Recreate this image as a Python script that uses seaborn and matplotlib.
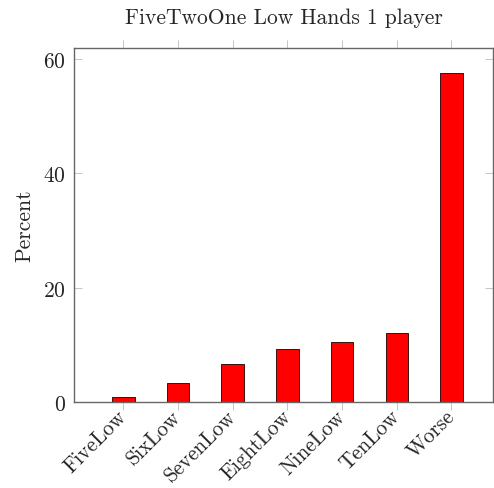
import pandas as pd
import matplotlib
matplotlib.use("Agg")
import matplotlib.pyplot as plt
import seaborn as sns

# Werte
hands = ['FiveLow', 'SixLow', 'SevenLow', 'EightLow', 'NineLow', 'TenLow', 'Worse']
percent = [1.0, 3.4, 6.7, 9.4, 10.6, 12.1, 57.5]

sns.set_style('white')
plt.rcParams['font.family'] = ['cmr10', 'DejaVu Serif']
plt.rcParams['axes.formatter.use_mathtext'] = True
plt.rcParams['mathtext.fontset'] = 'cm'

df = pd.DataFrame({'hand': hands, 'percent': percent})

fig = plt.figure(figsize=(4.94, 4.89), dpi=100)
ax = fig.add_axes([0.150, 0.175, 0.848, 0.725])

sns.barplot(data=df, x='hand', y='percent', color='#ff0000', saturation=1,
            width=0.41, edgecolor='#3a1010', linewidth=0.7, ax=ax)

ax.set_xlim(-0.9, 6.76)
ax.set_ylim(0, 61.9)
ax.set_yticks([0, 20, 40, 60])
ax.set_title('FiveTwoOne Low Hands 1 player', fontsize=15.5, pad=18)
ax.set_xlabel('')
ax.set_ylabel('Percent', fontsize=15.5, labelpad=6)

for s in ax.spines.values():
    s.set_color('#666666')
    s.set_linewidth(1.0)

ax.tick_params(axis='x', which='both', direction='out', length=5.5, width=0.6,
               color='#bbbbbb', top=True, bottom=True, labelsize=15.2, pad=2)
ax.tick_params(axis='y', which='both', direction='in', length=5.5, width=0.6,
               color='#bbbbbb', left=True, right=True, labelsize=15.5, pad=6)
for lab in ax.get_xticklabels():
    lab.set_rotation(45)
    lab.set_ha('right')
    lab.set_va('center')
    lab.set_rotation_mode('anchor')

fig.savefig('out.png', dpi=100)
